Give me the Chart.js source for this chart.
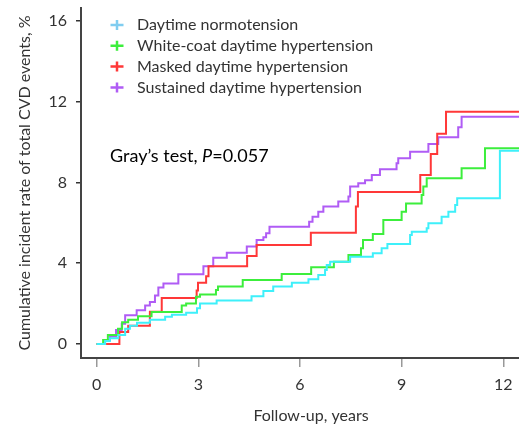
<!DOCTYPE html>
<html>
<head>
<meta charset="utf-8">
<script src="https://cdn.jsdelivr.net/npm/chart.js@4.4.1/dist/chart.umd.min.js"></script>
<style>
  html, body { margin: 0; padding: 0; background: #fff; }
  #wrap { width: 519px; height: 427px; position: relative; }
</style>
</head>
<body>
<div id="wrap"><canvas id="c" width="519" height="427"></canvas></div>
<script>
// ---- Data (years, cumulative incidence %) ----
const xTicks = [0, 3, 6, 9, 12];
const yTicks = [0, 4, 8, 12, 16];
const seriesNames = [
  "Daytime normotension",
  "White-coat daytime hypertension",
  "Masked daytime hypertension",
  "Sustained daytime hypertension"
];
const xTitle = "Follow-up, years";
const yTitle = "Cumulative incident rate of total CVD events, %";

const normoT = [0, 0.25, 0.39, 0.64, 0.84, 0.98, 1.19, 1.57, 2.02, 2.22, 2.64, 2.96, 3.05, 3.54, 4.57, 4.92, 5.21, 5.76, 6.25, 6.54, 6.74, 6.79, 6.89, 7.48, 8.15, 8.41, 8.58, 9.25, 9.30, 9.74, 9.79, 10.18, 10.38, 10.58, 10.64, 11.90];
const normoV = [0, 0.15, 0.28, 0.45, 0.75, 0.90, 1.05, 1.20, 1.35, 1.45, 1.55, 1.77, 2.00, 2.15, 2.36, 2.62, 2.84, 3.03, 3.20, 3.42, 3.66, 3.91, 4.07, 4.32, 4.49, 4.74, 4.95, 5.40, 5.56, 5.73, 5.98, 6.30, 6.55, 6.88, 7.21, 9.57];

const whiteT = [0, 0.19, 0.33, 0.63, 0.75, 0.93, 1.22, 1.62, 2.51, 2.64, 2.93, 3.05, 3.52, 3.58, 4.31, 5.46, 6.33, 7.00, 7.43, 7.80, 7.86, 8.15, 8.46, 9.00, 9.13, 9.59, 9.64, 9.74, 10.77, 11.46];
const whiteV = [0, 0.20, 0.45, 0.75, 1.08, 1.20, 1.37, 1.58, 1.90, 2.01, 2.34, 2.45, 2.67, 2.85, 3.17, 3.47, 3.80, 4.07, 4.40, 4.74, 5.15, 5.45, 6.14, 6.55, 6.96, 7.38, 7.79, 8.20, 8.70, 9.69];

const maskedT = [0, 0.67, 0.93, 1.57, 1.92, 2.95, 2.99, 3.23, 3.30, 4.44, 4.72, 6.32, 7.65, 7.71, 9.55, 9.86, 10.05, 10.31];
const maskedV = [0, 0.60, 0.90, 1.60, 2.28, 2.65, 3.03, 3.35, 3.85, 4.36, 4.90, 5.51, 6.80, 7.52, 8.37, 9.40, 10.40, 11.50];

const sustT = [0, 0.245, 0.39, 0.57, 0.74, 0.84, 1.18, 1.43, 1.57, 1.72, 1.82, 1.97, 2.41, 3.15, 3.44, 3.84, 4.43, 4.72, 4.92, 5.00, 5.10, 6.27, 6.37, 6.54, 6.69, 7.13, 7.43, 7.48, 7.72, 7.92, 8.12, 8.36, 8.85, 8.90, 9.25, 9.79, 10.08, 10.67, 10.77];
const sustV = [0, 0.20, 0.37, 0.69, 1.00, 1.42, 1.67, 1.90, 2.08, 2.40, 2.80, 3.00, 3.45, 3.85, 4.27, 4.52, 4.82, 5.15, 5.28, 5.48, 5.80, 6.05, 6.30, 6.55, 6.80, 7.05, 7.30, 7.80, 7.96, 8.10, 8.37, 8.65, 8.94, 9.19, 9.52, 9.90, 10.23, 10.73, 11.25];

const xMin = -0.463, xMax = 12.464;
const yMin = -0.693, yMax = 16.63;

function buildSeries(ts, vs) {
  const pts = ts.map((t, i) => ({ x: t, y: vs[i] }));
  pts.push({ x: xMax, y: vs[vs.length - 1] });
  return pts;
}

const lineColors = ["#3ef0fa", "#3cee3c", "#ff3838", "#b05cf5"];
const legendColors = ["#80cdf0", "#3cee3c", "#ff3838", "#b05cf5"];
const seriesT = [normoT, whiteT, maskedT, sustT];
const seriesV = [normoV, whiteV, maskedV, sustV];

const FONT = "Lato, 'Open Sans', sans-serif";

const overlayPlugin = {
  id: 'overlay',
  afterDraw(chart) {
    const ctx = chart.ctx;
    const ca = chart.chartArea;
    ctx.save();
    // legend
    const lx = ca.left + 36, tx = ca.left + 56, ly0 = ca.top + 17, dy = 20.8;
    ctx.font = "16px " + FONT;
    ctx.textBaseline = 'middle';
    ctx.textAlign = 'left';
    chart.data.datasets.forEach((ds, i) => {
      const y = ly0 + i * dy;
      ctx.strokeStyle = legendColors[i];
      ctx.lineWidth = 2.5;
      ctx.beginPath();
      ctx.moveTo(lx - 6.5, y); ctx.lineTo(lx + 6.5, y);
      ctx.moveTo(lx, y - 5); ctx.lineTo(lx, y + 5);
      ctx.stroke();
      ctx.fillStyle = '#333';
      ctx.fillText(ds.label, tx, y);
    });
    // Gray's test annotation
    let gx = ca.left + 29, gy = ca.top + 148;
    ctx.fillStyle = '#000';
    ctx.font = "18px " + FONT;
    const p1 = "Gray\u2019s test, ";
    ctx.fillText(p1, gx, gy);
    gx += ctx.measureText(p1).width;
    ctx.font = "italic 18px " + FONT;
    ctx.fillText("P", gx, gy);
    gx += ctx.measureText("P").width;
    ctx.font = "18px " + FONT;
    ctx.fillText("=0.057", gx, gy);
    // x axis title
    ctx.font = "16px " + FONT;
    ctx.fillStyle = '#333';
    ctx.textAlign = 'center';
    ctx.fillText(xTitle, (ca.left + ca.right) / 2 + 11, ca.bottom + 58);
    ctx.restore();
  }
};

new Chart(document.getElementById('c'), {
  type: 'line',
  data: {
    datasets: seriesNames.map((name, i) => ({
      label: name,
      data: buildSeries(seriesT[i], seriesV[i]),
      borderColor: lineColors[i],
      backgroundColor: lineColors[i],
      borderWidth: 2,
      pointRadius: 0,
      stepped: true,
      fill: false
    }))
  },
  options: {
    responsive: false,
    animation: false,
    layout: { padding: { top: 8, right: 0, left: 0, bottom: 0 } },
    plugins: { legend: { display: false }, tooltip: { enabled: false } },
    scales: {
      x: {
        type: 'linear',
        min: xMin, max: xMax,
        afterBuildTicks: s => { s.ticks = xTicks.map(v => ({ value: v })); },
        afterFit: s => { s.height = 69; s.paddingLeft = 0; s.paddingRight = 0; },
        grid: { drawOnChartArea: false, drawTicks: true, tickLength: 9, color: '#999', lineWidth: 1.5 },
        border: { display: true, color: '#444', width: 2 },
        ticks: { color: '#333', font: { family: FONT, size: 16 }, padding: 8, maxRotation: 0, autoSkip: false },
        title: { display: false }
      },
      y: {
        type: 'linear',
        min: yMin, max: yMax,
        afterBuildTicks: s => { s.ticks = yTicks.map(v => ({ value: v })); },
        afterFit: s => { s.width = 81; s.paddingTop = 0; s.paddingBottom = 0; },
        grid: { drawOnChartArea: false, drawTicks: true, tickLength: 5, color: '#333', lineWidth: 1.5 },
        border: { display: true, color: '#444', width: 2 },
        ticks: { color: '#333', font: { family: FONT, size: 16 }, padding: 9 },
        title: { display: true, text: yTitle, color: '#333', font: { family: FONT, size: 16 }, padding: { top: 15, bottom: 0 } }
      }
    }
  },
  plugins: [overlayPlugin]
});
</script>
</body>
</html>
